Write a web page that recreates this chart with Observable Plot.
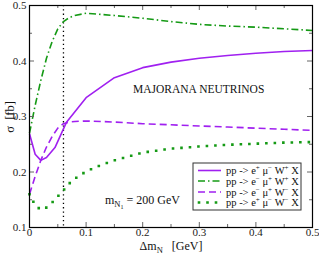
<!DOCTYPE html>
<html><head><meta charset="utf-8">
<script src="https://cdn.jsdelivr.net/npm/d3@7"></script>
<script src="https://cdn.jsdelivr.net/npm/@observablehq/plot@0.6"></script>
<style>body{margin:0;background:#fff;} svg{display:block;}</style>
</head><body><div id="chart"></div>
<script>
// Series: pp -> e+ mu- W+ X (solid purple)
const xA = [0, 0.01, 0.02, 0.03, 0.045, 0.065, 0.1, 0.15, 0.2, 0.25, 0.3, 0.35, 0.4, 0.45, 0.5];
const yA = [0.269, 0.232, 0.221, 0.226, 0.244, 0.289, 0.334, 0.370, 0.388, 0.398, 0.405, 0.410, 0.414, 0.417, 0.419];
// pp -> e- mu+ W+ X (dash-dot green)
const xB = [0, 0.01, 0.02, 0.03, 0.04, 0.05, 0.06, 0.07, 0.08, 0.1, 0.15, 0.2, 0.25, 0.3, 0.35, 0.4, 0.45, 0.5];
const yB = [0.27, 0.32, 0.365, 0.405, 0.435, 0.458, 0.471, 0.478, 0.482, 0.486, 0.482, 0.477, 0.471, 0.466, 0.463, 0.461, 0.458, 0.455];
// pp -> e- mu+ W- X (dashed purple)
const xC = [0, 0.01, 0.02, 0.03, 0.04, 0.05, 0.06, 0.07, 0.08, 0.1, 0.15, 0.2, 0.25, 0.3, 0.35, 0.4, 0.45, 0.5];
const yC = [0.160, 0.192, 0.221, 0.245, 0.264, 0.279, 0.287, 0.290, 0.291, 0.292, 0.290, 0.287, 0.285, 0.283, 0.281, 0.279, 0.277, 0.275];
// pp -> e+ mu- W- X (dotted green)
const xD = [0, 0.01, 0.02, 0.03, 0.04, 0.05, 0.06, 0.07, 0.08, 0.1, 0.12, 0.15, 0.2, 0.25, 0.3, 0.35, 0.4, 0.45, 0.5];
const yD = [0.160, 0.140, 0.132, 0.136, 0.145, 0.156, 0.167, 0.179, 0.188, 0.201, 0.210, 0.221, 0.235, 0.242, 0.246, 0.249, 0.251, 0.253, 0.254];

const vlineX = [0.06];
const xTicks = [0, 0.1, 0.2, 0.3, 0.4, 0.5];
const xTickLabels = ["0", "0.1", "0.2", "0.3", "0.4", "0.5"];
const xMinor = [0.05, 0.15, 0.25, 0.35, 0.45];
const yTicks = [0.1, 0.2, 0.3, 0.4, 0.5];
const yTickLabels = ["0.1", "0.2", "0.3", "0.4", "0.5"];
const yMinor = [0.15, 0.25, 0.35, 0.45];

const seriesNames = [
  ["pp -> e", "+", " μ", "−", " W", "+", " X"],
  ["pp -> e", "−", " μ", "+", " W", "+", " X"],
  ["pp -> e", "−", " μ", "+", " W", "−", " X"],
  ["pp -> e", "+", " μ", "−", " W", "−", " X"]
];

const purple = "#a020f0", green = "#159a15";
const styles = [
  {stroke: purple, strokeWidth: 1.6, dash: null, cap: "butt"},
  {stroke: green, strokeWidth: 1.6, dash: "7 3 1.5 3", cap: "butt"},
  {stroke: purple, strokeWidth: 1.6, dash: "7 4", cap: "butt"},
  {stroke: green, strokeWidth: 2.6, dash: "0 8.5", cap: "square"}
];
const toRows = (xs, ys) => xs.map((x, i) => ({x, y: ys[i]}));
const series = [toRows(xA, yA), toRows(xB, yB), toRows(xC, yC), toRows(xD, yD)];

const W = 319, H = 253, mL = 29, mR = 7, mT = 5, mB = 26;
const fw = W - mL - mR, fh = H - mT - mB;
const serif = "'Liberation Serif', 'Times New Roman', Times, serif";
const tickCol = "#666";

const marks = [
  Plot.ruleX(vlineX, {x: d => d, stroke: "black", strokeWidth: 1.3, strokeDasharray: "1.3 3"}),
  ...series.map((s, i) => Plot.line(s, {x: "x", y: "y", stroke: styles[i].stroke, strokeWidth: styles[i].strokeWidth,
      strokeDasharray: styles[i].dash, strokeLinecap: styles[i].cap})),
  Plot.tickX(xTicks, {x: d => d, insetTop: fh - 5, stroke: tickCol}),
  Plot.tickX(xTicks, {x: d => d, insetBottom: fh - 5, stroke: tickCol}),
  Plot.tickX(xMinor, {x: d => d, insetTop: fh - 3, stroke: tickCol}),
  Plot.tickX(xMinor, {x: d => d, insetBottom: fh - 3, stroke: tickCol}),
  Plot.tickY(yTicks, {y: d => d, insetRight: fw - 5, stroke: tickCol}),
  Plot.tickY(yTicks, {y: d => d, insetLeft: fw - 5, stroke: tickCol}),
  Plot.tickY(yMinor, {y: d => d, insetRight: fw - 3, stroke: tickCol}),
  Plot.tickY(yMinor, {y: d => d, insetLeft: fw - 3, stroke: tickCol}),
  Plot.frame({stroke: "black", strokeWidth: 1.2}),
  Plot.axisX(xTicks, {tickSize: 0, tickPadding: 1, tickFormat: (d, i) => xTickLabels[i], fontSize: 11, fill: "#222", label: null}),
  Plot.axisY(yTicks, {tickSize: 0, tickPadding: 3, tickFormat: (d, i) => yTickLabels[i], fontSize: 11, fill: "#222", label: null})
];

const svgPlot = Plot.plot({
  width: W, height: H, marginLeft: mL, marginRight: mR, marginTop: mT, marginBottom: mB,
  x: {domain: [0, 0.5]}, y: {domain: [0.1, 0.5]},
  style: {fontFamily: serif, background: "white"},
  marks
});
document.getElementById("chart").appendChild(svgPlot);

const svg = d3.select(svgPlot);
const g = svg.append("g").attr("font-family", serif).attr("fill", "#111").attr("text-anchor", "start");

// x label: Δm_N  [GeV]
const xl = g.append("text").attr("x", 171).attr("y", 250).attr("text-anchor", "middle").attr("font-size", 12);
xl.append("tspan").text("Δm");
xl.append("tspan").attr("font-size", 8.5).attr("dy", 2.5).text("N");
xl.append("tspan").attr("dy", -2.5).text("\u00a0\u00a0\u00a0[GeV]");

// y label: σ  [fb]
g.append("text").attr("transform", "translate(14,117) rotate(-90)").attr("text-anchor", "middle")
  .attr("font-size", 12.5).text("σ\u00a0\u00a0[fb]");

// annotation
g.append("text").attr("x", 133).attr("y", 93).attr("font-size", 11.5).text("MAJORANA NEUTRINOS");

const mt = g.append("text").attr("x", 105).attr("y", 204).attr("font-size", 12);
mt.append("tspan").text("m");
mt.append("tspan").attr("font-size", 8.5).attr("dy", 3).text("N");
mt.append("tspan").attr("font-size", 6).attr("dy", 1.5).text("1");
mt.append("tspan").attr("dy", -4.5).text(" = 200 GeV");

// legend
const lg = svg.append("g").attr("font-family", serif).attr("text-anchor", "start");
lg.append("rect").attr("x", 193).attr("y", 163).attr("width", 108).attr("height", 47)
  .attr("fill", "white").attr("stroke", "#333").attr("stroke-width", 1);
const rowY = [170.5, 181, 192, 202.5];
seriesNames.forEach((parts, i) => {
  const st = styles[i];
  lg.append("line").attr("x1", st.cap === "square" ? 199 : 198).attr("x2", 221).attr("y1", rowY[i]).attr("y2", rowY[i])
    .attr("stroke", st.stroke).attr("stroke-width", st.strokeWidth)
    .attr("stroke-dasharray", st.dash).attr("stroke-linecap", st.cap);
  const t = lg.append("text").attr("x", 226).attr("y", rowY[i] + 3.5).attr("font-size", 10.5).attr("fill", "#111");
  parts.forEach((p, j) => {
    const sup = j % 2 === 1;
    const ts = t.append("tspan").text(p);
    if (sup) ts.attr("font-size", 7).attr("dy", -4);
    else if (j > 0) ts.attr("dy", 4);
  });
});
</script>
</body></html>
